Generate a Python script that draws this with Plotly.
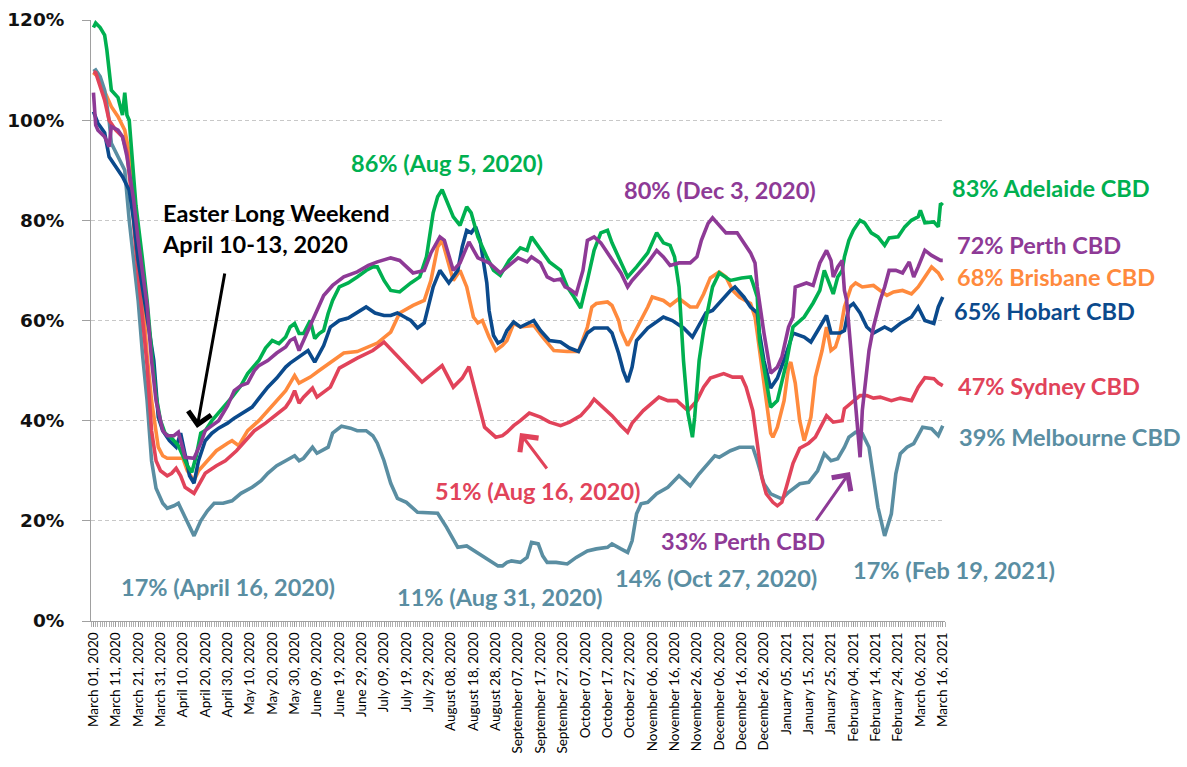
import pandas as pd
import plotly.graph_objects as go

# ---------------- data (days since March 01, 2020 ; % of baseline) ----------------
adelaide_days = [0,1,3,5,6,8,11,13,14,15,16,18,19,22,24,26,28,30,32,35,38,40,42,44,46,48,50,53,56,59,62,66,69,72,74,77,80,83,86,88,90,92,94,97,99,101,103,105,107,110,114,118,122,125,127,130,133,137,142,146,149,152,154,156,158,161,164,167,169,172,176,179,182,186,191,194,196,198,201,204,209,212,215,218,221,224,227,230,232,236,239,243,248,252,255,258,260,262,264,266,268,269,271,273,275,277,280,285,290,294,295,297,298,301,303,306,310,313,318,322,325,327,330,331,333,335,336,338,340,343,345,348,351,354,356,360,363,366,369,370,372,376,378,379,380]
adelaide_vals = [118.5,119.4,118.5,117,114,106,104.5,101,105.5,101,100,88,83,72,64,54,45,40,37.5,36.5,35,33,31,29.7,33,37.5,38,40,41.5,43,44.7,47,49.4,51,52,54.5,56,55.4,56.7,58.7,59.4,57.4,57.4,60,56.4,57.4,58,61.4,64,66.7,67.5,68.7,70,70.7,70.7,68,66,65.7,67.5,68.7,72.7,81.5,84.7,86.1,84,80.7,79,82.7,81.5,76.7,72.7,70,69,72,74.5,74,76.7,75.5,73.5,71.7,70,66.7,64.7,62.5,68,74,77.5,78,75.5,71.5,68.7,70.7,73.5,77.5,75.5,75,72.7,66.7,52,41.5,36.7,40.7,52,58,62,66.7,69.5,68,68.5,68.7,67.5,64.7,56,47.5,42.7,44,51.5,58.7,60.7,63.5,66,70,66.7,65.3,68.7,70,72.7,76,78,80,79.5,77.5,76.7,75,76.5,76.7,78.7,80,80.7,82,79.5,79.7,78.7,83.4,83]

perth_days = [0,1,2,5,7,8,11,13,15,18,20,22,24,26,28,31,33,36,38,41,45,48,50,53,56,60,63,66,69,72,74,78,82,86,88,90,92,97,100,103,107,112,118,123,127,133,137,143,148,151,155,157,161,164,168,172,177,182,186,190,194,196,200,203,206,209,211,213,216,219,221,224,227,231,236,239,241,248,252,255,258,262,267,270,272,275,277,279,283,288,291,294,296,297,300,303,306,308,311,313,314,319,322,325,328,330,331,333,335,336,337,340,343,344,347,349,352,354,356,359,362,365,367,369,372,375,379,380]
perth_vals = [105.5,99,98,96.7,94.7,98.7,98,96.7,92.7,84,76,69,63,52,44,38,37,37,37.7,32.7,32.5,35.5,38,39,40,43,46,47,47.5,50,51,52,53.5,54.7,56,56.5,54,59,62,65,67,68.7,69.7,71,71.7,72.5,72,69.5,70,73.5,76.7,76,70,71.5,75.7,72.5,71.5,69.5,71,72.5,71.7,72.7,71.5,68.7,68,68.3,66.7,66.3,65.3,70,76,76.7,75.5,72.7,69.5,66.7,68,71.5,74,72.7,71,71.5,71.5,72.7,76,79.4,80.5,79.5,77.5,77.5,75.5,73.5,71.5,66.7,57.5,49.5,50.7,52.7,58.7,60.7,66.7,67.5,67,71.5,74,72,68.7,70.7,72,66,64,47.5,32.7,42,54,58.7,64,66.7,70,70,69.5,71.7,68.7,70.7,74,73,72,72]

brisbane_days = [0,1,5,8,11,14,16,18,20,22,24,26,29,31,33,37,40,42,45,47,50,55,60,62,65,69,74,78,82,86,88,90,92,97,101,106,112,118,122,127,133,137,143,148,151,154,156,158,161,164,167,170,172,174,177,180,183,185,188,191,197,201,206,212,217,221,223,225,230,232,235,236,239,241,245,248,250,255,258,262,267,270,273,276,280,283,286,289,294,296,297,300,302,303,304,306,309,311,312,314,316,318,321,323,326,328,330,332,334,336,339,341,344,349,352,355,358,362,366,369,372,375,378,380]
brisbane_vals = [109,109.5,105.7,102.7,100.7,98,93.5,85,75,65,53,44,34.7,33,32.5,32.5,32.5,30,28,30,31.5,34,35.5,36,35,38,40,42,44,46,47.5,49,47.5,48.7,50,51.5,53.5,53.8,54.5,55.5,57.7,61.5,63,64,68,74.7,76,72.7,68,70,66.7,60.7,59.5,60,56.7,54,55,56,59.4,58.7,59,56.7,54,53.8,53.8,58.7,62.7,63.4,63.7,63,60,58,55,56.7,60,62.7,64.7,64,63,64.4,62.7,62.7,65.3,68.5,69.7,68.7,66,64.7,63.4,60.7,57.5,47.5,42,37.5,36.7,38.7,44,50.7,51.7,47.5,40,36,40.7,48.7,54,58.7,54,54.7,57.5,62.7,66.7,67.5,66.7,67,66,65,65.7,66,65.3,66.7,68.7,70.7,69.5,68]

hobart_days = [0,2,5,7,10,13,16,18,20,22,24,27,29,31,34,37,39,41,43,45,47,50,53,56,60,63,67,71,75,78,82,86,88,92,96,99,103,106,110,114,118,122,126,130,133,136,140,142,145,148,152,155,159,163,165,167,169,171,173,176,177,179,181,183,185,188,191,197,200,204,209,213,217,221,224,230,232,235,237,239,241,243,248,252,255,259,264,268,271,274,277,280,285,287,291,294,297,298,300,303,306,310,313,318,321,325,328,330,334,336,338,340,343,346,349,354,357,361,366,369,372,376,378,380]
hobart_vals = [101.7,99.4,97.5,92.7,90.7,88.7,86,80,72,66,60,52,40.7,38,36,34.7,37.5,33,29,27.5,32,36,37.5,38.5,39.5,40.5,41.5,42.7,45,46.7,48.5,50.7,51.5,52.7,54,51.7,55,58.7,60,60.5,61.5,62.7,61.5,61,61,61.5,60.5,60,58.5,59.5,66.7,70,67.5,70,74.7,78,77.5,78.7,76,67.5,62,57,55.5,56,58,59.7,58.7,60,58,56,55.7,54.5,53.8,57.5,58.5,58.5,57.5,53.4,50,47.7,50.7,56,58.5,59.7,60.7,60,58.5,56.7,59,61.5,62,63.5,66,66.7,64.7,62.7,61.5,57.5,52,46.5,48.5,53.4,57.5,56.7,55.7,58.7,61,57.5,57.5,58,62.7,63.4,61.5,58.7,57.5,58.7,58,59.4,60.7,62.7,60,59.4,62.7,64.7]

sydney_days = [0,1,5,7,10,13,15,17,19,21,24,26,28,30,33,35,37,39,41,45,47,50,55,59,64,68,72,77,81,86,88,90,92,94,98,100,106,110,118,125,130,136,140,147,152,156,161,165,168,172,175,180,183,185,188,191,195,200,204,209,213,218,222,224,228,232,236,239,241,246,253,257,261,266,270,273,276,282,286,290,292,295,297,299,301,304,306,308,310,313,316,320,323,326,328,331,335,336,340,343,346,349,352,357,361,366,369,372,376,378,380]
sydney_vals = [109.7,109.5,104,100,98,96.7,93.5,85,74,64,51,38,32,30,29,29.5,30.5,29,26.7,25.5,27,29.5,31,32,34,36,38,39.5,41,42.7,44,46,43.5,44.7,46.5,44.7,46.7,50.5,52.5,54,55.7,53,51,47.7,49.5,51,46.7,48.5,50.8,44,38.7,36.7,37,37.7,39,40,41.5,40.7,39.7,39,39.7,41,43,44.3,42.7,41,39,37.7,39.5,42,44.7,44,44,42,44,46.7,48.5,49.4,48.7,48.7,46.7,42,35.5,28.7,25.4,23.7,23,23.7,26.7,31.5,34.5,35.5,36.7,39.5,41,39.7,40,42.4,44,45,45,44.5,44.7,44,44.5,44,46.7,48.6,48.4,47.5,47]

melbourne_days = [0,1,3,5,7,8,11,14,16,18,20,22,24,26,28,31,33,36,38,41,45,48,51,54,58,62,66,71,75,78,82,86,90,92,94,98,100,105,107,111,115,118,122,125,127,130,133,136,140,145,150,154,158,163,167,172,177,181,183,185,187,191,194,196,199,201,203,207,212,216,221,225,230,232,236,239,241,243,245,248,252,257,262,267,271,275,278,280,285,289,295,297,300,303,306,308,311,316,320,324,327,330,333,336,338,341,344,347,349,351,354,357,359,361,364,367,371,375,378,380]
melbourne_vals = [109.7,110,108.7,106,100,95.4,92.7,90,80,72,64,53,44,32,26.5,23.5,22.5,23,23.5,20.7,17,20,22,23.5,23.5,24,25.5,26.7,28,29.5,31,32,33,32,32.5,34.7,33.5,34.7,37.5,38.9,38.5,38,38,37,35.5,32,27.5,24.5,23.7,21.7,21.5,21.5,18.7,14.7,15,13.5,12,11,11,11.7,12,11.7,12.7,15.7,15.4,13,11.7,11.7,11.4,12.7,14,14.4,14.7,15.4,14.4,13.7,16,21.4,23.4,23.7,25.4,26.7,29,27,29.4,31.4,33,32.7,34,34.7,34.7,32,27.4,25.4,24.7,24.4,25.7,27.4,27.7,30,33.4,32,32.4,34.7,36.7,37.7,37.4,34.7,28.7,22.7,17,21.4,29.4,33.4,34.7,35.4,38.7,38.4,37,39]

start_date = "2020-03-01"

# ---------------- style ----------------
GREEN = "#00B050"
PURPLE = "#8E3A96"
ORANGE = "#FF8A3D"
BLUE = "#0B4A8C"
RED = "#E1435A"
TEAL = "#5A8EA2"

W, H = 1187, 767
ML, MR, MT, MB = 91, 242, 20, 146
PW, PH = W - ML - MR, H - MT - MB

def px(x):
    return (x - ML) / PW

def py(y):
    return (H - MB - y) / PH

base = pd.Timestamp(start_date)

def dates(days):
    return [base + pd.Timedelta(days=d) for d in days]

series = [
    ("Brisbane CBD", brisbane_days, brisbane_vals, ORANGE),
    ("Melbourne CBD", melbourne_days, melbourne_vals, TEAL),
    ("Sydney CBD", sydney_days, sydney_vals, RED),
    ("Hobart CBD", hobart_days, hobart_vals, BLUE),
    ("Adelaide CBD", adelaide_days, adelaide_vals, GREEN),
    ("Perth CBD", perth_days, perth_vals, PURPLE),
]

fig = go.Figure()
for name, d, v, c in series:
    fig.add_trace(go.Scatter(x=dates(d), y=v, mode="lines", name=name,
                             line=dict(color=c, width=3.6), showlegend=False))

AF = "Lato"
ann_font = 23.5

texts = [
    ("86% (Aug 5, 2020)", 447, 163, GREEN, "center"),
    ("80% (Dec 3, 2020)", 720, 190, PURPLE, "center"),
    ("83% Adelaide CBD", 950, 188, GREEN, "left"),
    ("72% Perth CBD", 955, 245, PURPLE, "left"),
    ("68% Brisbane CBD", 955, 277, ORANGE, "left"),
    ("65% Hobart CBD", 952, 311, BLUE, "left"),
    ("47% Sydney CBD", 956, 386, RED, "left"),
    ("39% Melbourne CBD", 957, 437, TEAL, "left"),
    ("51% (Aug 16, 2020)", 538, 491, RED, "center"),
    ("33% Perth CBD", 743, 541, PURPLE, "center"),
    ("17% (April 16, 2020)", 228, 587, TEAL, "center"),
    ("11% (Aug 31, 2020)", 500, 597, TEAL, "center"),
    ("14% (Oct 27, 2020)", 716, 578, TEAL, "center"),
    ("17% (Feb 19, 2021)", 954, 570, TEAL, "center"),
]
annotations = []
for t, x, y, c, al in texts:
    annotations.append(dict(text="<b>%s</b>" % t, xref="paper", yref="paper",
                            x=px(x), y=py(y), xanchor=al, yanchor="middle",
                            showarrow=False, font=dict(family=AF, size=ann_font, color=c)))
annotations.append(dict(text="<b>Easter Long Weekend<br>April 10-13, 2020</b>", xref="paper", yref="paper",
                        x=px(160), y=py(228), xanchor="left", yanchor="middle", align="left",
                        showarrow=False, font=dict(family=AF, size=ann_font, color="black")))

arrows = [
    ((225, 272), (197, 428), "black"),
    ((548, 470), (520, 433), RED),
    ((815, 522), (850, 472), PURPLE),
]
for (tx, ty), (hx, hy), c in arrows:
    annotations.append(dict(text="", xref="paper", yref="paper", x=px(hx), y=py(hy),
                            ax=tx - hx, ay=ty - hy, axref="pixel", ayref="pixel",
                            showarrow=True, arrowhead=4, arrowsize=1.5, arrowwidth=3, arrowcolor=c))

fig.update_layout(
    width=W, height=H,
    margin=dict(l=ML, r=MR, t=MT, b=MB, pad=0, autoexpand=False),
    plot_bgcolor="white", paper_bgcolor="white",
    annotations=annotations,
    showlegend=False,
)

fig.update_xaxes(
    type="date", automargin=False,
    range=[base - pd.Timedelta(hours=26.4), base + pd.Timedelta(days=381)],
    tick0=start_date, dtick=10 * 86400000,
    tickformat="%B %d, %Y", tickangle=-90,
    tickfont=dict(family=AF, size=13.5, color="black"),
    ticks="outside", ticklen=5, tickcolor="#9a9a9a",
    minor=dict(ticks="outside", ticklen=5, dtick=86400000, tickcolor="#b0b0b0", showgrid=False),
    showline=True, linecolor="#a0a0a0", linewidth=1,
    showgrid=False, zeroline=False,
)
fig.update_yaxes(
    automargin=False,
    range=[0, 120], dtick=20, ticksuffix="%",
    tickfont=dict(family="DejaVu Sans", size=18.5, color="#111111", weight="bold"),
    ticks="outside", ticklen=8, tickcolor="#a0a0a0", ticklabelstandoff=14,
    showline=True, linecolor="#a0a0a0", linewidth=1,
    showgrid=True, gridcolor="#c8c8c8", gridwidth=1, griddash="4px,3px",
    zeroline=False,
)

fig.write_html("out.html", config={"displayModeBar": False},
               post_script="document.body.style.margin='0';document.body.style.overflow='hidden';")
